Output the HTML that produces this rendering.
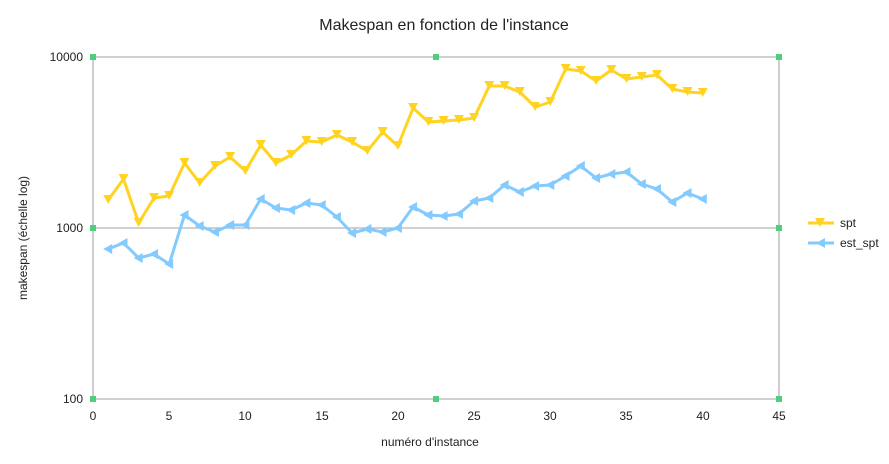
<!DOCTYPE html><html><head><style>body{margin:0;background:#fff}svg{display:block;font-family:"Liberation Sans",sans-serif}</style></head><body>
<svg width="889" height="464" xmlns="http://www.w3.org/2000/svg">
<defs>
<marker id="md" markerUnits="userSpaceOnUse" viewBox="-6 -6 12 12" refX="0" refY="0" markerWidth="12" markerHeight="12" overflow="visible"><path d="M-5 -5h10l-5 9z" fill="#ffd320"/></marker>
<marker id="ml" markerUnits="userSpaceOnUse" viewBox="-6 -6 12 12" refX="0" refY="0" markerWidth="12" markerHeight="12" overflow="visible"><path d="M-5 0l9 -5v10z" fill="#83caff"/></marker>
</defs>
<text x="444" y="30" text-anchor="middle" font-size="16" fill="#222">Makespan en fonction de l'instance</text>
<g stroke="#b3b3b3" stroke-width="1.3"><line x1="93" y1="57" x2="779" y2="57"/><line x1="93" y1="228" x2="779" y2="228"/><line x1="93" y1="399" x2="779" y2="399"/><line x1="93" y1="57" x2="93" y2="399"/><line x1="779" y1="57" x2="779" y2="399"/></g>
<g fill="#4ccf7f"><rect x="90" y="54" width="6" height="6"/><rect x="90" y="225" width="6" height="6"/><rect x="90" y="396" width="6" height="6"/><rect x="433" y="54" width="6" height="6"/><rect x="433" y="396" width="6" height="6"/><rect x="776" y="54" width="6" height="6"/><rect x="776" y="225" width="6" height="6"/><rect x="776" y="396" width="6" height="6"/></g>
<g font-size="12" fill="#222" text-anchor="end"><text x="83" y="61">10000</text><text x="83" y="232">1000</text><text x="83" y="403">100</text></g>
<g font-size="12" fill="#222" text-anchor="middle"><text x="93" y="420">0</text><text x="169" y="420">5</text><text x="245" y="420">10</text><text x="322" y="420">15</text><text x="398" y="420">20</text><text x="474" y="420">25</text><text x="550" y="420">30</text><text x="626" y="420">35</text><text x="703" y="420">40</text><text x="779" y="420">45</text></g>
<text x="430" y="446" text-anchor="middle" font-size="12" fill="#222">numéro d'instance</text>
<text transform="translate(27,238) rotate(-90)" text-anchor="middle" font-size="12" fill="#222">makespan (échelle log)</text>
<polyline fill="none" stroke="#ffd320" stroke-width="3" stroke-linejoin="round" marker-start="url(#md)" marker-mid="url(#md)" marker-end="url(#md)" points="108.2,200 123.5,179 138.7,223 154,198 169.2,196 184.5,163 199.7,183 215,166 230.2,157 245.4,171 260.7,145 275.9,163 291.2,155 306.4,141 321.7,142 336.9,135 352.1,142 367.4,151 382.6,132 397.9,146 413.1,108 428.4,122 443.6,121 458.9,120 474.1,118 489.3,86 504.6,86 519.8,92 535.1,107 550.3,102 565.6,69 580.8,71 596.1,81 611.3,70 626.5,79 641.8,77 657,75 672.3,89 687.5,92 702.8,93"/>
<polyline fill="none" stroke="#83caff" stroke-width="3" stroke-linejoin="round" marker-start="url(#ml)" marker-mid="url(#ml)" marker-end="url(#ml)" points="108.2,249 123.5,243 138.7,258 154,254 169.2,264 184.5,215 199.7,226 215,232 230.2,225 245.4,225 260.7,199 275.9,208 291.2,210 306.4,203 321.7,205 336.9,217 352.1,233 367.4,229 382.6,232 397.9,228 413.1,207 428.4,215 443.6,216 458.9,214 474.1,201 489.3,198 504.6,185 519.8,192 535.1,186 550.3,185 565.6,176 580.8,166 596.1,178 611.3,174 626.5,172 641.8,184 657,189 672.3,202 687.5,193 702.8,199"/>
<g font-size="12" fill="#222"><text x="840" y="227">spt</text><text x="840" y="247">est_spt</text></g>
<line x1="808" y1="223" x2="834" y2="223" stroke="#ffd320" stroke-width="3"/><path d="M815 218h10l-5 9z" fill="#ffd320"/>
<line x1="808" y1="243" x2="834" y2="243" stroke="#83caff" stroke-width="3"/><path d="M816 243l9-5v10z" fill="#83caff"/>
</svg></body></html>
